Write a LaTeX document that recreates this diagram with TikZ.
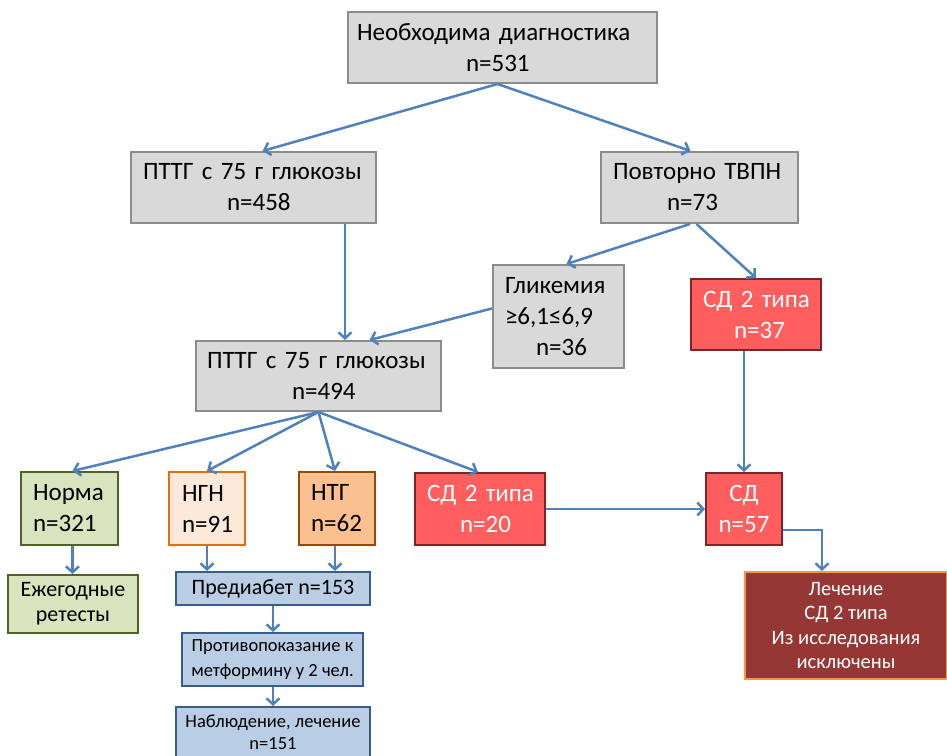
\documentclass[tikz,border=0pt]{standalone}
\usepackage{fontspec}
\setmainfont{Carlito}
\usetikzlibrary{arrows.meta}
\definecolor{rellenogris}{HTML}{D9D9D9}
\definecolor{bordegris}{HTML}{8C8C8C}
\definecolor{rellenorojo}{HTML}{FF5E5E}
\definecolor{borderojo}{HTML}{7F2424}
\definecolor{rellenoverde}{HTML}{D7E4BD}
\definecolor{bordeverde}{HTML}{4F6228}
\definecolor{rellenongn}{HTML}{FDE9D9}
\definecolor{bordengn}{HTML}{E46C0A}
\definecolor{rellenontg}{HTML}{FAC090}
\definecolor{bordentg}{HTML}{984807}
\definecolor{rellenoazul}{HTML}{B9CDE5}
\definecolor{bordeazul}{HTML}{385D8A}
\definecolor{rellenooscuro}{HTML}{953735}
\definecolor{bordeoscuro}{HTML}{F79646}
\definecolor{flecha}{HTML}{4F81BD}

\begin{document}
\begin{tikzpicture}[x=1pt, y=-1pt,
            caja/.style ={draw, line width=2pt, inner ysep=0pt, align=left,
            font=\fontsize{25}{31}\selectfont},
            gris/.style ={caja, fill=rellenogris, draw=bordegris},
            rojo/.style ={caja, fill=rellenorojo, draw=borderojo, text=white},
            verde/.style ={caja, fill=rellenoverde, draw=bordeverde},
            ngn/.style ={caja, fill=rellenongn, draw=bordengn},
            ntg/.style ={caja, fill=rellenontg, draw=bordentg},
            azul/.style ={caja, fill=rellenoazul, draw=bordeazul, align=center, inner xsep=0pt},
            oscuro/.style ={caja, fill=rellenooscuro, draw=bordeoscuro, text=white, align=center,
            font=\fontsize{20.5}{24.5}\selectfont},
            camino/.style ={draw=flecha, line width=2.5pt, -{Straight Barb[length=6pt, width=13pt]}}]

        \useasboundingbox (0,0) rectangle (947,755);

        %\node [estilo] (nombre) at (centro en px) {};

        \node[gris, text width=291pt, inner xsep=9pt, minimum height=71pt] (diag) at (502.5, 47.5)
            {Необходима~диагностика\\\hspace*{109pt}n=531};

        \node[gris, text width=221pt, inner xsep=12pt, minimum height=71pt] (pttg1) at (253.5, 187.5)
            {ПТТГ~с~75~г~глюкозы\\\hspace*{84pt}n=458};
        \node[gris, text width=173pt, inner xsep=12pt, minimum height=71pt] (povt) at (699.5, 187.5)
            {Повторно~ТВПН\\\hspace*{54pt}n=73};

        \node[gris, text width=107pt, inner xsep=12pt, minimum height=103pt] (glik) at (558.5, 316.5)
            {Гликемия\\≥6,1≤6,9\\\hspace*{31pt}n=36};
        \node[rojo, text width=106pt, inner xsep=12pt, minimum height=71pt] (sd1) at (756, 314.5)
            {СД~2~типа\\\hspace*{31pt}n=37};

        \node[gris, text width=223pt, inner xsep=11pt, minimum height=70pt] (pttg2) at (318.5, 376)
            {ПТТГ~с~75~г~глюкозы\\\hspace*{85pt}n=494};

        \node[verde, text width=73pt, inner xsep=12pt, minimum height=73pt] (norma) at (69.5, 508.5)
            {Норма\\n=321};
        \node[ngn, text width=50pt, inner xsep=13pt, minimum height=73pt] (ngnc) at (207, 508.5)
            {НГН\\n=91};
        \node[ntg, text width=52pt, inner xsep=12pt, minimum height=73pt] (ntgc) at (337, 508.5)
            {НТГ\\n=62};
        \node[rojo, text width=106pt, inner xsep=12pt, minimum height=72pt] (sd2) at (480, 509)
            {СД~2~типа\\\hspace*{33pt}n=20};
        \node[rojo, align=center, inner xsep=0pt, minimum width=76pt, minimum height=72pt] (sd) at (744, 509)
            {СД\\n=57};

        \node[verde, align=center, inner xsep=0pt, minimum width=130pt, minimum height=58pt,
            font=\fontsize{22}{25}\selectfont] (retest) at (73, 604) {Ежегодные\\ретесты};
        \node[azul, minimum width=194pt, minimum height=33pt,
            font=\fontsize{22}{24}\selectfont] (prediab) at (273, 588.5) {Предиабет n=153};
        \node[azul, minimum width=181pt, minimum height=53pt,
            font=\fontsize{18.5}{25}\selectfont] (protiv) at (272.5, 659.5)
            {Противопоказание к\\метформину у 2 чел.};
        \node[azul, minimum width=194pt, minimum height=51pt,
            font=\fontsize{18.5}{22}\selectfont] (nabl) at (273, 732.5) {Наблюдение, лечение\\n=151};
        \node[oscuro, minimum width=202pt, minimum height=107pt] (lech) at (846, 625.5)
            {Лечение\\СД 2 типа\\Из исследования\\исключены};

        %%--------------------------caminos--------------------------

        \path[camino] ([xshift=-5pt]diag.south) -- ([xshift=9pt]pttg1.north);
        \path[camino] ([xshift=-5pt]diag.south) -- ([xshift=-9pt]povt.north);

        \path[camino] ([xshift=91.5pt]pttg1.south) -- ([xshift=91.5pt]pttg1.south |- pttg2.north);
        \path[camino] ([xshift=-9.5pt]povt.south) -- ([xshift=8pt]glik.north);
        \path[camino] ([xshift=-3pt]povt.south) -- (sd1.north);
        \path[camino] ([yshift=8pt]glik.west) -- ([xshift=51pt]pttg2.north);

        \path[camino] (pttg2.south) -- ([xshift=3pt]norma.north);
        \path[camino] (pttg2.south) -- (ngnc.north);
        \path[camino] (pttg2.south) -- ([xshift=-2pt]ntgc.north);
        \path[camino] (pttg2.south) -- ([xshift=-2pt]sd2.north);

        \path[camino] (sd.north |- sd1.south) -- (sd.north);
        \path[camino] (sd2.east) -- (sd.west);
        \path[camino] ([yshift=-21pt]sd.east) -| ([xshift=-24pt]lech.north);

        \path[camino] ([xshift=3pt]norma.south) -- ([xshift=3pt]norma.south |- retest.north);
        \path[camino] (ngnc.south) -- (ngnc.south |- prediab.north);
        \path[camino] ([xshift=-2pt]ntgc.south) -- ([xshift=-2pt]ntgc.south |- prediab.north);
        \path[camino] (prediab.south) -- (prediab.south |- protiv.north);
        \path[camino] (prediab.south |- protiv.south) -- (prediab.south |- nabl.north);

    \end{tikzpicture}
\end{document}
